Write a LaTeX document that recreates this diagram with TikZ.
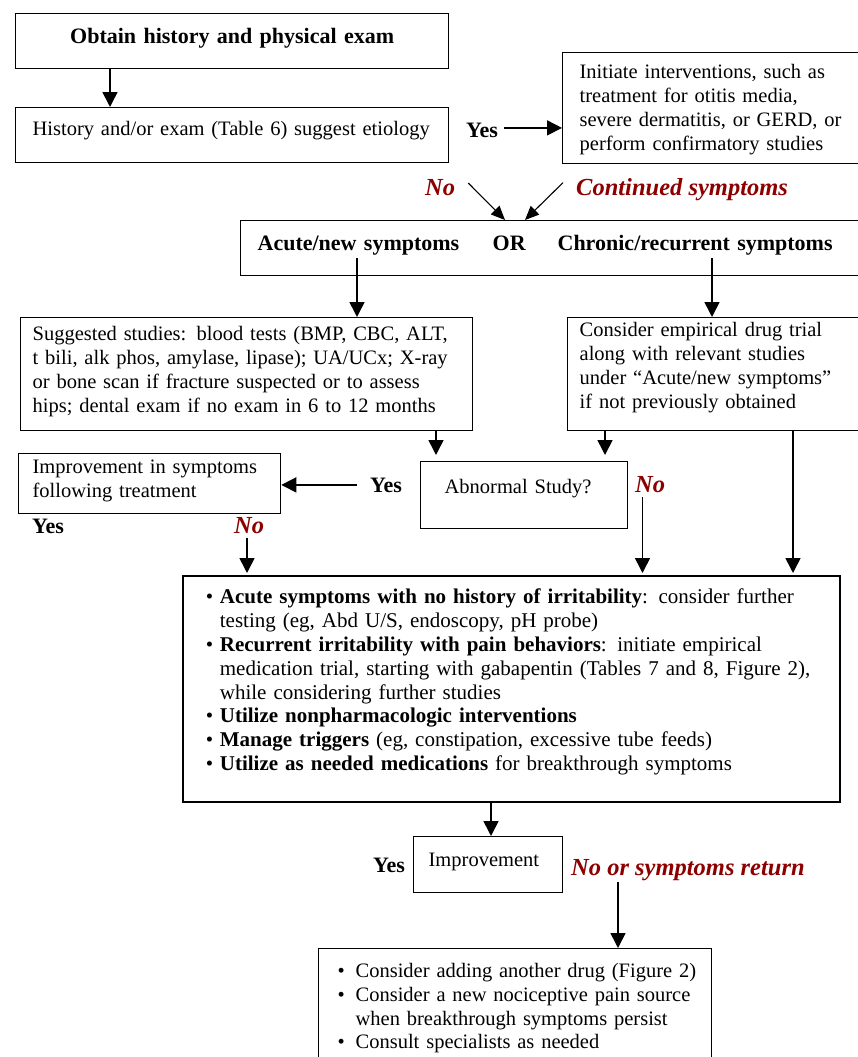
\documentclass[tikz,border=0pt]{standalone}
\usepackage{fontspec}
\setmainfont{Liberation Serif}
\usepackage{tikz}
\usetikzlibrary{arrows.meta, positioning, calc}

\definecolor{noRed}{RGB}{140,0,0}
\newcommand{\boxlines}[1]{\begin{tabular}[t]{@{}l@{}}#1\end{tabular}}
\newcommand{\bul}[1][14pt]{\makebox[#1][l]{\textbullet}}

\begin{document}
\begin{tikzpicture}[x=1pt, y=-1pt, >={Triangle[length=15pt, width=15pt]},
		flow/.style={->, line width=1.6pt},
		slant/.style={-{Triangle[length=14pt, width=12pt]}, line width=1.1pt},
		box/.style={draw, line width=1.3pt, anchor=north west, align=left, inner ysep=0pt,
			font=\fontsize{20.5}{24}\selectfont},
		yeslbl/.style={inner sep=0pt, anchor=base west, font=\fontsize{22}{26}\selectfont\bfseries},
		nolbl/.style={inner sep=0pt, anchor=base west, text=noRed, font=\fontsize{24.5}{28}\selectfont\bfseries\itshape}]
		\clip (0,0) rectangle (858,1057);

		\node[box, minimum width=433pt, minimum height=55pt, inner xsep=10pt, text width=413pt, align=center,
			text height=15pt, text depth=10pt, font=\fontsize{22}{26}\selectfont\bfseries] (obtain) at (15,13)
			{Obtain history and physical exam};
		\node[box, minimum width=433pt, minimum height=55pt, inner xsep=17pt, text width=399pt,
			text height=15pt, text depth=14pt] (hist) at (15,107)
			{\boxlines{History and/or exam (Table 6) suggest etiology}};
		\node[box, minimum width=305pt, minimum height=111pt, inner xsep=17pt, text width=271pt,
			text height=16.8pt, text depth=75.8pt] (interv) at (562,52)
			{\boxlines{Initiate interventions, such as\\ treatment for otitis media,\\
				severe dermatitis, or GERD, or\\ perform confirmatory studies}};
		\node[box, minimum width=625pt, minimum height=55pt, inner xsep=17pt, text width=591pt,
			text height=15pt, text depth=10pt, font=\fontsize{22}{26}\selectfont\bfseries] (sympt) at (240,220)
			{\makebox[235pt][l]{Acute/new symptoms}\makebox[65pt][l]{OR}Chronic/recurrent symptoms};

		\node[box, minimum width=452pt, minimum height=113pt, inner xsep=12pt, text width=428pt,
			text height=16.8pt, text depth=83.8pt] (studies) at (20,317)
			{\boxlines{Suggested studies: blood tests (BMP, CBC, ALT,\\ t bili, alk phos, amylase, lipase); UA/UCx; X-ray\\
				or bone scan if fracture suspected or to assess\\ hips; dental exam if no exam in 6 to 12 months}};
		\node[box, minimum width=300pt, minimum height=113pt, inner xsep=12pt, text width=276pt,
			text height=16.8pt, text depth=91.8pt] (trial) at (567,317)
			{\boxlines{Consider empirical drug trial\\ along with relevant studies\\
				under ``Acute/new symptoms''\\ if not previously obtained}};
		\node[box, minimum width=207pt, minimum height=67pt, inner xsep=24pt, text width=159pt,
			text height=15pt, text depth=18pt] (abn) at (420,461) {Abnormal Study?};
		\node[box, minimum width=262pt, minimum height=60pt, inner xsep=14pt, text width=234pt,
			text height=16.8pt, text depth=36.8pt] (improv) at (18,453)
			{\boxlines{Improvement in symptoms\\ following treatment}};

		\node[box, line width=1.8pt, minimum width=657pt, minimum height=226pt, inner xsep=23pt, text width=611pt,
			text height=16.66pt, text depth=186.66pt, font=\fontsize{21}{23.8}\selectfont] (manage) at (182,575)
			{\boxlines{\bul\textbf{Acute symptoms with no history of irritability}: consider further\\
				\hspace*{14pt}testing (eg, Abd U/S, endoscopy, pH probe)\\
				\bul\textbf{Recurrent irritability with pain behaviors}: initiate empirical\\
				\hspace*{14pt}medication trial, starting with gabapentin (Tables 7 and 8, Figure 2),\\
				\hspace*{14pt}while considering further studies\\
				\bul\textbf{Utilize nonpharmacologic interventions}\\
				\bul\textbf{Manage triggers} (eg, constipation, excessive tube feeds)\\
				\bul\textbf{Utilize as needed medications} for breakthrough symptoms}};
		\node[box, minimum width=149pt, minimum height=56pt, inner xsep=15pt, text width=119pt,
			text height=15pt, text depth=11pt] (impr) at (413,836) {Improvement};
		\node[box, minimum width=393pt, minimum height=118pt, inner xsep=19pt, text width=355pt,
			text height=16.59pt, text depth=76.6pt, font=\fontsize{20.5}{23.7}\selectfont] (further) at (318,948)
			{\boxlines{\bul[18pt]Consider adding another drug (Figure 2)\\
				\bul[18pt]Consider a new nociceptive pain source\\
				\hspace*{18pt}when breakthrough symptoms persist\\
				\bul[18pt]Consult specialists as needed}};

		\node[yeslbl] (yesA) at (466,137) {Yes};
		\node[nolbl] (noA) at (425,195) {No};
		\node[nolbl] (contd) at (576,195) {Continued symptoms};
		\node[yeslbl] (yesB) at (370,492) {Yes};
		\node[nolbl] (noB) at (635,492) {No};
		\node[yeslbl] (yesC) at (32,533) {Yes};
		\node[nolbl] (noC) at (234,533) {No};
		\node[yeslbl] (yesD) at (373,872) {Yes};
		\node[nolbl] (noD) at (571,875) {No or symptoms return};

		\coordinate (yesAstart) at ([shift={(6pt,2pt)}]yesA.east);
		\coordinate (yesBstart) at ([xshift=-13pt]yesB.west);
		\coordinate (noBstart) at ([shift={(7.5pt,-5pt)}]noB.south west);
		\coordinate (noCstart) at ([shift={(13pt,-5pt)}]noC.south west);
		\coordinate (noDstart) at ([shift={(47pt,-2pt)}]noD.south west);

		\draw[flow] ([xshift=95pt]obtain.south west) -- ([xshift=95pt]hist.north west);
		\draw[flow] (yesAstart) -- (yesAstart -| interv.west);
		\draw[slant] ([shift={(13pt,4pt)}]noA.east) -- ([xshift=265pt]sympt.north west);
		\draw[slant] ([shift={(-13pt,6.5pt)}]contd.west) -- ([xshift=285pt]sympt.north west);

		\draw[flow] ([shift={(117pt,18pt)}]sympt.south west) -- ([xshift=337pt]studies.north west);
		\draw[flow] ([shift={(472pt,18pt)}]sympt.south west) -- ([xshift=145pt]trial.north west);
		\draw[flow, shorten >=6pt] ([xshift=416pt]studies.south west) -- ([xshift=16pt]abn.north west);
		\draw[flow, shorten >=6pt] ([xshift=38pt]trial.south west) -- ([xshift=185pt]abn.north west);
		\draw[flow, shorten >=2pt] ([xshift=226pt]trial.south west) -- ([xshift=611pt]manage.north west);
		\draw[flow] (yesBstart) -- (yesBstart -| improv.east);
		\draw[flow, shorten >=2pt] (noBstart) -- (noBstart |- manage.north);
		\draw[flow, shorten >=2pt] (noCstart) -- (noCstart |- manage.north);

		\draw[flow] ([xshift=309pt]manage.south west) -- ([xshift=78pt]impr.north west);
		\draw[flow] (noDstart) -- (noDstart |- further.north);

	\end{tikzpicture}
\end{document}
